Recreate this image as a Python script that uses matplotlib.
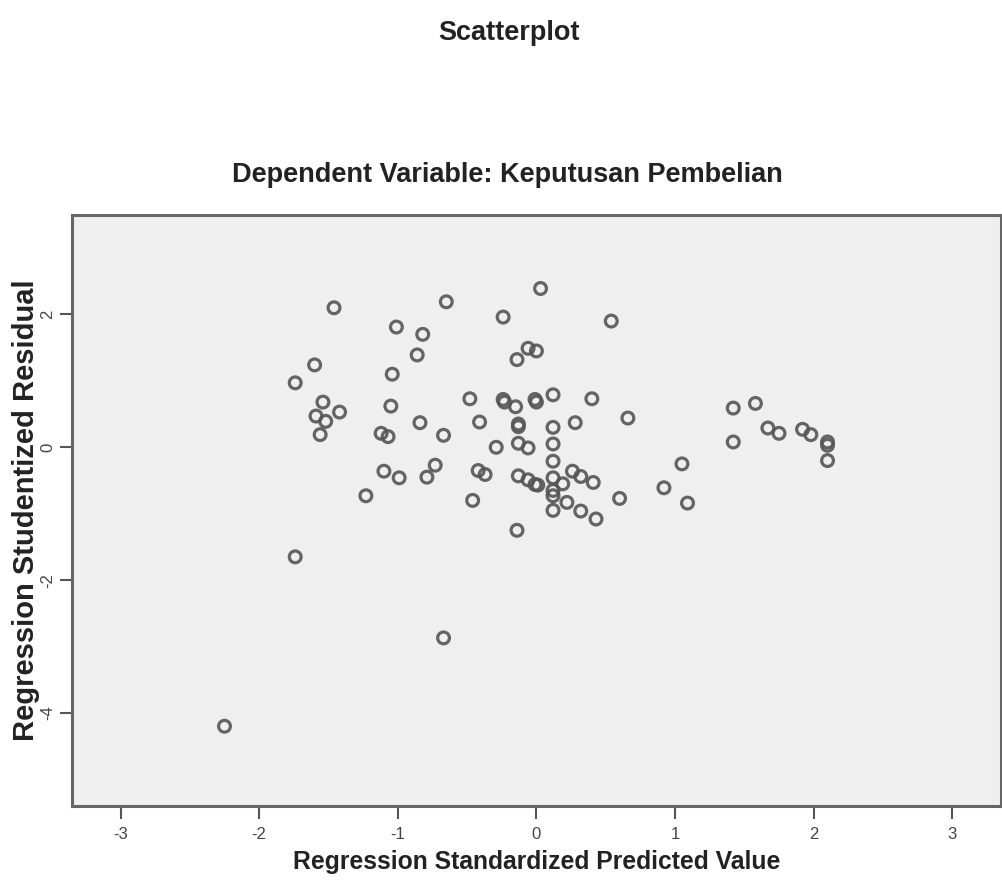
import matplotlib
matplotlib.use("Agg")
import matplotlib.pyplot as plt
import numpy as np

plt.rcParams['font.family'] = ['Liberation Sans', 'DejaVu Sans']

# standardized predicted value (x) and studentized residual (y)
pred = [-1.46, -0.65, 0.03, -0.24, 0.54, -1.01, -0.82, -0.86, -0.06, 0.00,
        -0.14, -1.60, -1.04, -1.74, -1.54, -1.42, -1.59, -1.52, -1.56, -1.05,
        -0.48, -0.24, -0.23, -0.15, -0.01, 0.00, 0.12, 0.40, 0.66, -0.84,
        -0.41, -0.13, -0.13, 0.12, 0.28, -1.12, -1.07, -0.67, -0.13, -0.06,
        0.12, -0.29, 0.12, -0.73, -1.10, -0.99, -0.79, -0.42, -0.37, -0.13,
        -0.06, -0.01, 0.01, 0.12, 0.12, 0.12, 0.19, 0.26, 0.32, 0.41,
        0.22, 0.32, 0.43, 0.12, -0.46, 0.60, 0.92, 1.05, 1.09, -1.23,
        -0.14, -1.74, -0.67, -2.25, 1.42, 1.58, 1.67, 1.75, 1.92, 1.98,
        2.10, 2.10, 2.10, 1.42]
resid = [2.10, 2.19, 2.39, 1.96, 1.90, 1.81, 1.70, 1.39, 1.49, 1.45,
         1.32, 1.24, 1.10, 0.97, 0.68, 0.53, 0.47, 0.39, 0.19, 0.62,
         0.73, 0.72, 0.68, 0.61, 0.72, 0.68, 0.79, 0.73, 0.44, 0.37,
         0.38, 0.35, 0.31, 0.30, 0.37, 0.21, 0.16, 0.18, 0.06, -0.01,
         0.05, 0.00, -0.21, -0.27, -0.36, -0.46, -0.45, -0.35, -0.41, -0.43,
         -0.49, -0.56, -0.57, -0.46, -0.65, -0.73, -0.55, -0.36, -0.44, -0.53,
         -0.83, -0.96, -1.08, -0.95, -0.80, -0.77, -0.61, -0.25, -0.84, -0.73,
         -1.25, -1.65, -2.87, -4.20, 0.59, 0.66, 0.29, 0.21, 0.27, 0.19,
         0.08, 0.03, -0.20, 0.08]

x_ticks = [-3, -2, -1, 0, 1, 2, 3]
y_ticks = [-4, -2, 0, 2]

fig = plt.figure(figsize=(10.03, 8.89), dpi=100)
ax = fig.add_axes([0.0718, 0.0934, 0.926, 0.665])
ax.set_facecolor('#efefef')

ax.scatter(pred, resid, s=72, facecolors='none', edgecolors='#555555',
           linewidths=2.3, alpha=0.9, zorder=3)

ax.set_xlim(-3.35, 3.35)
ax.set_ylim(-5.4, 3.5)
ax.set_xticks(x_ticks)
ax.set_yticks(y_ticks)
ax.set_xticklabels([str(t) for t in x_ticks], fontsize=12, color='#444444')
ax.set_yticklabels([str(t) for t in y_ticks], fontsize=12, color='#444444',
                   rotation=90, va='center')
ax.tick_params(axis='both', direction='out', length=9, width=1.5, color='#555555')
ax.tick_params(axis='x', pad=6)
ax.tick_params(axis='y', pad=3)

for s in ax.spines.values():
    s.set_color('#666666')
    s.set_linewidth(2.2)

ax.set_xlabel('Regression Standardized Predicted Value', fontsize=17.8,
              fontweight='bold', color='#222222', labelpad=6)
ax.set_ylabel('Regression Studentized Residual', fontsize=21,
              fontweight='bold', color='#222222', labelpad=0)

fig.text(0.507, 0.963, 'Scatterplot', ha='center', va='center', fontsize=19.5,
         fontweight='bold', color='#222222')
fig.text(0.506, 0.803, 'Dependent Variable: Keputusan Pembelian', ha='center',
         va='center', fontsize=19.5, fontweight='bold', color='#222222')

fig.savefig('out.png', dpi=100)
